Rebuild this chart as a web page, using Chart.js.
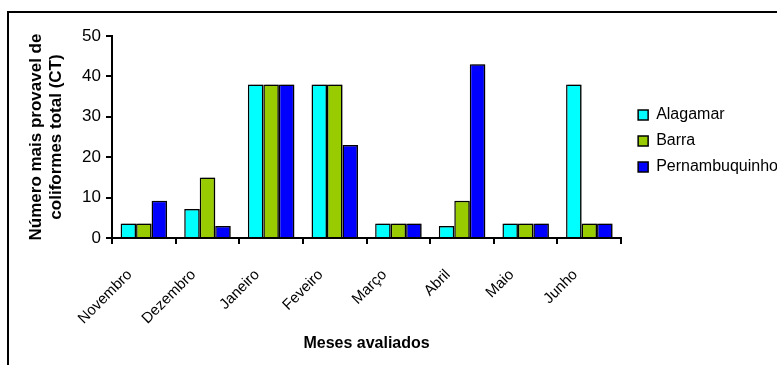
<!DOCTYPE html>
<html>
<head>
<meta charset="utf-8">
<script src="https://cdn.jsdelivr.net/npm/chart.js@4/dist/chart.umd.min.js"></script>
<style>
  html, body { margin: 0; padding: 0; background: #fff; overflow: hidden; }
  #frame {
    position: absolute; left: 7px; top: 11px; width: 2000px; height: 2000px;
    border-top: 2px solid #000; border-left: 2px solid #000;
  }
  #chart { position: absolute; left: 0; top: 0; }
</style>
</head>
<body>
<div id="frame"></div>
<canvas id="chart" width="830" height="365"></canvas>
<script>
// months on the x axis
const months = ['Novembro', 'Dezembro', 'Janeiro', 'Feveiro', 'Março', 'Abril', 'Maio', 'Junho'];

// values
const alagamar = [3.6, 7.2, 38, 38, 3.6, 3.0, 3.6, 38];
const barra = [3.6, 15, 38, 38, 3.6, 9.2, 3.6, 3.6];
const pernambuquinho = [9.2, 3.0, 38, 23, 3.6, 43, 3.6, 3.6];

const yTicks = [0, 10, 20, 30, 40, 50];

const FONT = 'Liberation Sans, Arial, sans-serif';

// light grey drop shadow under the bars, like the Excel original
const barShadow = {
    id: 'barShadow',
    beforeDatasetsDraw(chart) {
        const ctx = chart.ctx;
        ctx.save();
        ctx.shadowColor = 'rgba(0,0,0,0.4)';
        ctx.shadowOffsetX = 2;
        ctx.shadowOffsetY = 0;
        ctx.shadowBlur = 0;
    },
    afterDatasetsDraw(chart) {
        chart.ctx.restore();
    }
};

function makeDataset(label, data, color) {
    return {
        label: label,
        data: data,
        backgroundColor: color,
        borderColor: '#000',
        borderWidth: 1.5,
        borderSkipped: 'bottom',
        categoryPercentage: 0.73,
        barPercentage: 1.0
    };
}

const ctx = document.getElementById('chart').getContext('2d');
new Chart(ctx, {
    type: 'bar',
    data: {
        labels: months,
        datasets: [
            makeDataset('Alagamar', alagamar, '#00FFFF'),
            makeDataset('Barra', barra, '#99CC00'),
            makeDataset('Pernambuquinho', pernambuquinho, '#0000FF')
        ]
    },
    options: {
        responsive: false,
        animation: false,
        devicePixelRatio: 1,
        layout: { padding: { left: 8, top: 36, right: 42, bottom: 0 } },
        scales: {
            x: {
                grid: { display: true, drawOnChartArea: false, drawTicks: true, tickLength: 6, lineWidth: 2, color: '#000' },
                border: { display: true, color: '#000', width: 2 },
                ticks: {
                    autoSkip: false, minRotation: 45, maxRotation: 45,
                    padding: 22, labelOffset: -14,
                    color: '#000', font: { family: FONT, size: 15 }
                },
                title: {
                    display: true, text: 'Meses avaliados', color: '#000',
                    font: { family: FONT, size: 16, weight: 'bold' },
                    padding: { top: 0, bottom: 12 }
                },
                afterFit(scale) { scale.height = 127; }
            },
            y: {
                min: 0, max: 50,
                afterBuildTicks(scale) { scale.ticks = yTicks.map(v => ({ value: v })); },
                grid: { display: true, drawOnChartArea: false, drawTicks: true, tickLength: 6, lineWidth: 2, color: '#000' },
                border: { display: true, color: '#000', width: 2 },
                ticks: { padding: 5, color: '#000', font: { family: FONT, size: 17 } },
                title: {
                    display: true, text: ['Número mais provavel de', 'coliformes total (CT)'], color: '#000',
                    font: { family: FONT, size: 17, weight: 'bold', lineHeight: 1.18 },
                    padding: { top: 18, bottom: 0 }
                },
                afterFit(scale) { scale.width = 104; }
            },
            // empty spacer between plot and legend
            gap: {
                type: 'linear', position: 'right', display: true,
                grid: { display: false }, border: { display: false }, ticks: { display: false },
                afterFit(scale) { scale.width = 7; }
            }
        },
        plugins: {
            legend: {
                position: 'right', align: 'start', maxWidth: 220,
                title: { display: true, text: ' ', font: { size: 16, lineHeight: 1.25 }, padding: { top: 41, bottom: 0 } },
                labels: {
                    color: '#000', font: { family: FONT, size: 16 },
                    boxWidth: 10, boxHeight: 10, padding: 10
                }
            },
            tooltip: { enabled: false }
        }
    },
    plugins: [barShadow]
});
</script>
</body>
</html>
